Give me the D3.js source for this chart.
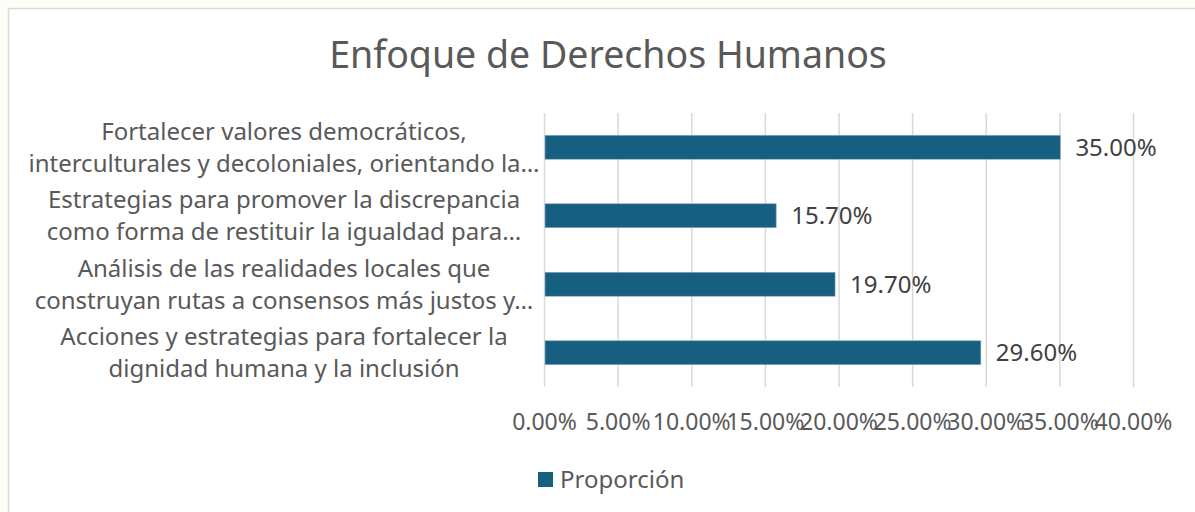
<!DOCTYPE html>
<html>
<head>
<meta charset="utf-8">
<script src="https://cdn.jsdelivr.net/npm/d3@7"></script>
<style>
  body { margin: 0; background: #fdfdf8; }
  svg { display: block; }
  text { font-family: "Noto Sans", "Open Sans", sans-serif; }
</style>
</head>
<body>
<svg id="chart" width="1195" height="512"></svg>
<script>
// chart data
const categories = [
    ['Fortalecer valores democráticos,', 'interculturales y decoloniales, orientando la…'],
    ['Estrategias para promover la discrepancia', 'como forma de restituir la igualdad para…'],
    ['Análisis de las realidades locales que', 'construyan rutas a consensos más justos y…'],
    ['Acciones y estrategias para fortalecer la', 'dignidad humana y la inclusión']
];
const values = [0.35, 0.157, 0.197, 0.296];
const ticks = [0, 0.05, 0.10, 0.15, 0.20, 0.25, 0.30, 0.35, 0.40];
const seriesName = 'Proporción';
const title = 'Enfoque de Derechos Humanos';

const svg = d3.select('#chart');
const W = 1195, H = 512;
const barColor = '#175f80';

// chart frame
svg.append('rect')
    .attr('x', 8.5).attr('y', 8.5)
    .attr('width', W).attr('height', H)
    .attr('fill', '#fff')
    .attr('stroke', '#d9d9d9')
    .attr('stroke-width', 1.5);

svg.append('text')
    .attr('x', 608).attr('y', 68)
    .attr('text-anchor', 'middle')
    .style('font-size', '37.5px')
    .style('fill', '#595959')
    .text(title);

const plot = { left: 544, right: 1133, top: 113, bottom: 387 };

const x = d3.scaleLinear().domain([0, 0.40]).range([plot.left, plot.right]);
const y = d3.scaleBand()
    .domain(d3.range(categories.length))
    .range([plot.top, plot.bottom])
    .paddingInner(0.65)
    .paddingOuter(0.325);

// gridlines
svg.append('g')
    .selectAll('line')
    .data(ticks)
    .enter()
    .append('line')
    .attr('x1', d => x(d) + 0.5).attr('x2', d => x(d) + 0.5)
    .attr('y1', plot.top).attr('y2', plot.bottom)
    .attr('stroke', '#d9d9d9')
    .attr('stroke-width', 1.5);

// tick labels via axis
const xAxis = svg.append('g')
    .attr('transform', `translate(0,${plot.bottom})`)
    .call(d3.axisBottom(x).tickValues(ticks).tickFormat(d3.format('.2%')).tickSize(0).tickPadding(27));
xAxis.select('.domain').remove();
xAxis.selectAll('text')
    .style('font-size', '23px')
    .style('fill', '#595959')
    .style('font-family', '"Noto Sans", sans-serif');

// bars
svg.append('g')
    .selectAll('rect')
    .data(values)
    .enter()
    .append('rect')
    .attr('x', x(0) + 1)
    .attr('y', (d, i) => y(i))
    .attr('width', d => x(d) - x(0))
    .attr('height', y.bandwidth())
    .attr('fill', barColor)
    .attr('stroke', '#8fb0c2')
    .attr('stroke-width', 0.6);

// data labels
svg.append('g')
    .selectAll('text')
    .data(values)
    .enter()
    .append('text')
    .attr('x', d => x(d) + 16)
    .attr('y', (d, i) => y(i) + y.bandwidth() / 2)
    .attr('dy', '0.36em')
    .style('font-size', '24px')
    .style('fill', '#404040')
    .text(d => d3.format('.2%')(d));

// category labels
const catG = svg.append('g');
categories.forEach((lines, i) => {
    const cy = y(i) + y.bandwidth() / 2;
    const t = catG.append('text')
        .attr('text-anchor', 'middle')
        .style('font-size', '24px')
        .style('fill', '#595959');
    lines.forEach((ln, j) => {
        t.append('tspan')
            .attr('x', 284)
            .attr('y', cy + (j - (lines.length - 1) / 2) * 32)
            .attr('dy', '0.36em')
            .text(ln);
    });
});

// legend
const leg = svg.append('g').attr('transform', 'translate(538,472)');
leg.append('rect').attr('width', 15).attr('height', 15).attr('fill', barColor);
leg.append('text')
    .attr('x', 22).attr('y', 7.5).attr('dy', '0.36em')
    .style('font-size', '24px')
    .style('fill', '#595959')
    .text(seriesName);
</script>
</body>
</html>
